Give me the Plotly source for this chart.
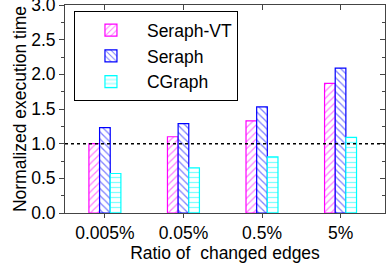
import plotly.graph_objects as go

categories = ["0.005%", "0.05%", "0.5%", "5%"]
seraph_vt = [1.00, 1.10, 1.33, 1.87]
seraph = [1.23, 1.29, 1.53, 2.09]
cgraph = [0.57, 0.65, 0.81, 1.09]
ref_line = 1.0

series = [
    ("Seraph-VT", seraph_vt, "#FF00FF", "/"),
    ("Seraph", seraph, "#0000FF", "\\"),
    ("CGraph", cgraph, "#00FFFF", "-"),
]

fig = go.Figure()
for name, vals, col, shp in series:
    fig.add_trace(go.Bar(
        x=categories, y=vals, name=name,
        marker=dict(color="white", line=dict(color=col, width=1.2),
                    pattern=dict(shape=shp, fgcolor=col, bgcolor="white",
                                 size=5, solidity=0.25)),
    ))

# invisible trace for the mirrored axes
fig.add_trace(go.Scatter(x=[0], y=[0], xaxis="x2", yaxis="y2", mode="markers",
                         marker=dict(opacity=0), showlegend=False, hoverinfo="skip"))

fig.add_shape(type="line", xref="paper", x0=0, x1=1, yref="y", y0=ref_line, y1=ref_line,
              line=dict(color="black", width=1.5, dash="dot"))

axcol = "#444444"
xr = [-0.508, 3.566]
yr = [0, 3.0]
fs = 17.5
font = dict(family="Arial, Liberation Sans, sans-serif", size=fs, color="black")

fig.update_layout(
    width=387, height=269,
    margin=dict(l=65, r=1.5, t=5.3, b=55.5),
    paper_bgcolor="white", plot_bgcolor="white",
    font=font,
    barmode="group", bargap=0.593, bargroupgap=0,
    showlegend=True,
    legend=dict(x=0.028, y=0.97, xanchor="left", yanchor="top",
                bordercolor="black", borderwidth=1, bgcolor="white",
                font=dict(size=fs), tracegroupgap=0, itemwidth=62),
    xaxis=dict(type="category", range=xr, showline=True, linecolor=axcol, linewidth=1,
               ticks="outside", ticklen=4, tickcolor=axcol, showgrid=False, automargin=False,
               title=dict(text="Ratio of  changed edges", standoff=4, font=dict(size=fs)),
               tickfont=dict(size=fs)),
    yaxis=dict(range=yr, dtick=0.5, tickformat=".1f", showline=True, linecolor=axcol,
               linewidth=1, ticks="outside", ticklen=5, tickcolor=axcol, showgrid=False,
               zeroline=False, automargin=False, ticklabeloverflow="allow",
               minor=dict(ticks="outside", ticklen=3, dtick=0.25, tickcolor=axcol),
               title=dict(text="Normalized execution time", standoff=0, font=dict(size=fs)),
               tickfont=dict(size=fs)),
    xaxis2=dict(overlaying="x", side="top", range=xr, tickvals=[0, 1, 2, 3],
                showticklabels=False, ticks="inside", ticklen=5, tickcolor=axcol, automargin=False,
                showline=True, linecolor=axcol, linewidth=1, showgrid=False, zeroline=False),
    yaxis2=dict(overlaying="y", side="right", range=yr, dtick=0.5, showticklabels=False,
                ticks="inside", ticklen=5, tickcolor=axcol, showline=True, linecolor=axcol,
                linewidth=1, showgrid=False, zeroline=False, automargin=False,
                minor=dict(ticks="inside", ticklen=3, dtick=0.25, tickcolor=axcol)),
)

fig.write_html("out.html", config={"displayModeBar": False},
               post_script="document.body.style.margin='0';document.body.style.overflow='hidden';")
